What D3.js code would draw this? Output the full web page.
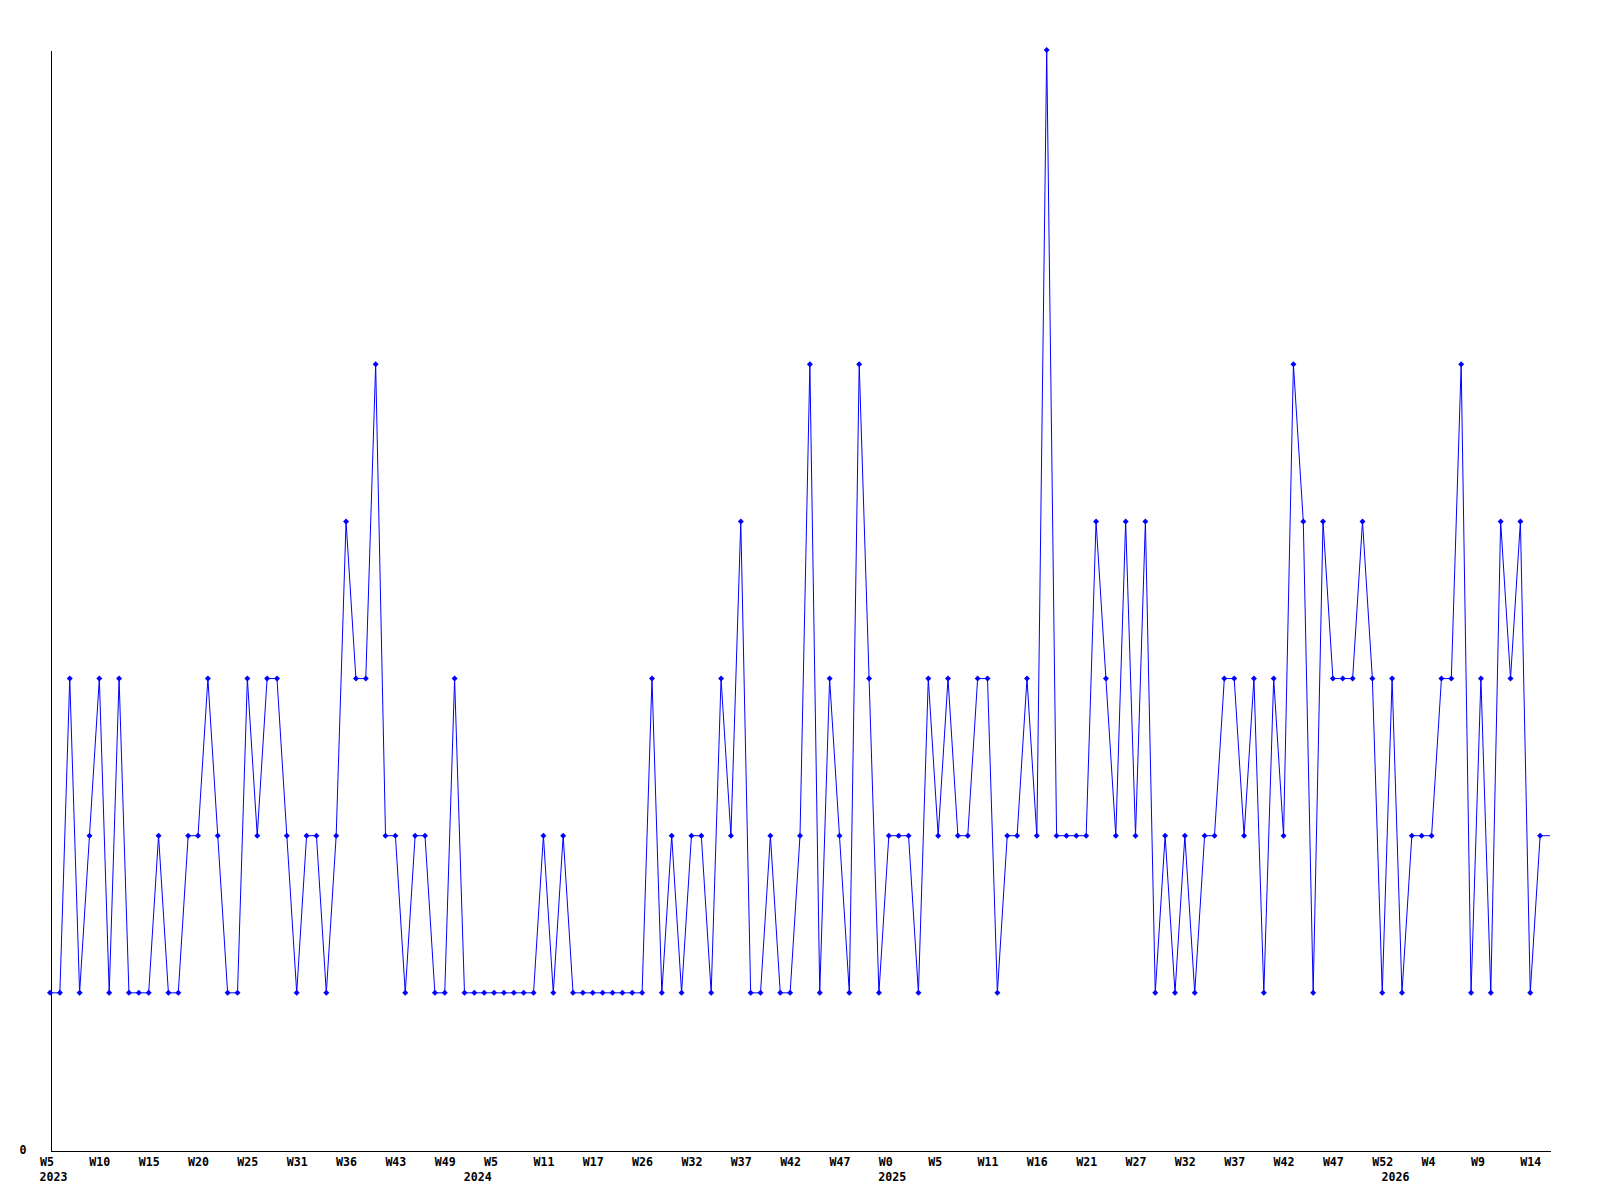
<!DOCTYPE html>
<html>
<head>
<meta charset="utf-8">
<script src="https://cdn.jsdelivr.net/npm/d3@7"></script>
<style>
  body { margin: 0; background: #fff; }
  svg { display: block; }
  .lbl { font-family: "DejaVu Sans Mono", monospace; font-weight: bold; font-size: 11.6px; fill: #000; }
</style>
</head>
<body>
<div id="chart"></div>
<script>
// weekly counts, one per point
const values = [
  1, 1, 3, 1, 2, 3, 1, 3, 1, 1, 1, 2, 1, 1, 2, 2, 3, 2, 1, 1,
  3, 2, 3, 3, 2, 1, 2, 2, 1, 2, 4, 3, 3, 5, 2, 2, 1, 2, 2, 1,
  1, 3, 1, 1, 1, 1, 1, 1, 1, 1, 2, 1, 2, 1, 1, 1, 1, 1, 1, 1,
  1, 3, 1, 2, 1, 2, 2, 1, 3, 2, 4, 1, 1, 2, 1, 1, 2, 5, 1, 3,
  2, 1, 5, 3, 1, 2, 2, 2, 1, 3, 2, 3, 2, 2, 3, 3, 1, 2, 2, 3,
  2, 7, 2, 2, 2, 2, 4, 3, 2, 4, 2, 4, 1, 2, 1, 2, 1, 2, 2, 3,
  3, 2, 3, 1, 3, 2, 5, 4, 1, 4, 3, 3, 3, 4, 3, 1, 3, 1, 2, 2,
  2, 3, 3, 5, 1, 3, 1, 4, 3, 4, 1, 2, 2
];

// labels shown every 5th point
const tickLabels = [
  "W5", "W10", "W15", "W20", "W25", "W31", "W36", "W43", "W49",
  "W5", "W11", "W17", "W26", "W32", "W37", "W42", "W47",
  "W0", "W5", "W11", "W16", "W21", "W27", "W32", "W37", "W42", "W47", "W52",
  "W4", "W9", "W14"
];
const tickEvery = 5;

const years = ["2023", "2024", "2025", "2026"];
const yearStart = [0, 43, 85, 136];

const yMax = 7;

const W = 1600, H = 1200;
const plotLeft = 50, plotRight = 1550, plotTop = 50, plotBottom = 1150;

const svg = d3.select("#chart").append("svg")
  .attr("width", W)
  .attr("height", H);

const x = d3.scaleLinear().domain([0, values.length - 1]).range([plotLeft, plotRight]);
const y = d3.scaleLinear().domain([0, yMax]).range([plotBottom, plotTop]);

// x axis
const xAxis = d3.axisBottom(x)
  .tickValues(d3.range(0, values.length, tickEvery))
  .tickFormat((d, i) => tickLabels[i])
  .tickSize(0)
  .tickSizeOuter(0);

const gx = svg.append("g")
  .attr("transform", `translate(0,${plotBottom + 0.5})`)
  .call(xAxis);
gx.select(".domain").attr("stroke", "#000").attr("shape-rendering", "crispEdges");
gx.selectAll("text")
  .attr("class", "lbl")
  .attr("text-anchor", "start")
  .attr("x", -10.5)
  .attr("y", 15.5)
  .attr("dy", null);

// years under the week labels
svg.selectAll("text.year")
  .data(years)
  .enter().append("text")
  .attr("class", "lbl year")
  .attr("x", (d, i) => x(yearStart[i]) - 10.5)
  .attr("y", 1180.5)
  .text(d => d);

// y axis, only zero labelled
const yAxis = d3.axisLeft(y)
  .tickValues([0])
  .tickFormat(d3.format("d"))
  .tickSize(0)
  .tickSizeOuter(0);

const gy = svg.append("g")
  .attr("transform", `translate(${plotLeft + 0.5},0)`)
  .call(yAxis);
gy.select(".domain").attr("stroke", "#000").attr("shape-rendering", "crispEdges");
gy.selectAll("text")
  .attr("class", "lbl")
  .attr("text-anchor", "start")
  .attr("x", -31)
  .attr("y", 3.5)
  .attr("dy", null);

// series line
const line = d3.line()
  .x((d, i) => x(i))
  .y(d => y(d));

svg.append("path")
  .datum(values)
  .attr("fill", "none")
  .attr("stroke", "#0000ff")
  .attr("stroke-width", 1)
  .attr("d", line);

// point markers (last one sits on the edge and is not drawn)
const diamond = "M0,-3L3,0L0,3L-3,0Z";
svg.selectAll("path.pt")
  .data(values.slice(0, -1))
  .enter().append("path")
  .attr("class", "pt")
  .attr("d", diamond)
  .attr("fill", "#0000ff")
  .attr("transform", (d, i) => `translate(${x(i)},${y(d)})`);
</script>
</body>
</html>
